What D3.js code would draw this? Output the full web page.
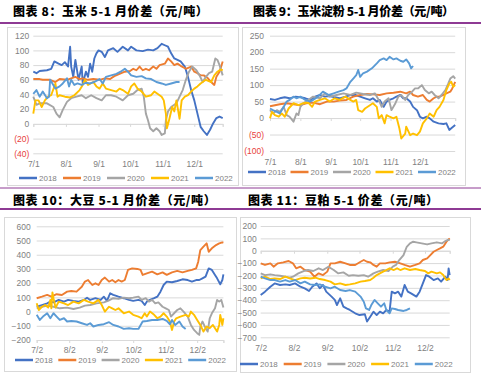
<!DOCTYPE html>
<html>
<head>
<meta charset="utf-8">
<script src="https://cdn.jsdelivr.net/npm/d3@7"></script>
<style>
  body { margin: 0; background: #fff; }
  svg { display: block; font-family: Arial, "Liberation Sans", sans-serif; }
</style>
</head>
<body>
<svg id="chart" width="481" height="373"></svg>
<script>
// series are [days since first tick date, value]
const years = ['2018', '2019', '2020', '2021', '2022'];
const colors = ['#4472C4', '#ED7D31', '#A5A5A5', '#FFC000', '#5B9BD5'];

// corn 5-1 spread
const cornTicks = ['7/1', '8/1', '9/1', '10/1', '11/1', '12/1'];
const cornY = [120, 100, 80, 60, 40, 20, 0, -20, -40];
const corn2018 = [[0,71],[3,69],[6,72],[13,73],[17,75],[20,85],[24,82],[27,80],[30,84],[33,78],[35,105],[36,78],[38,64],[40,87],[43,60],[46,78],[47,55],[50,71],[52,64],[54,82],[56,71],[58,89],[60,96],[62,100],[65,98],[68,91],[71,100],[76,103],[80,98],[85,105],[90,100],[93,105],[98,100],[104,99],[109,101],[114,100],[118,103],[122,109],[125,107],[128,105],[131,96],[134,89],[137,87],[140,85],[144,78],[147,64],[150,46],[153,32],[156,14],[159,-4],[162,-10],[165,-15],[168,-8],[171,1],[174,8],[177,10],[180,8]];
const corn2019 = [[0,61],[6,61],[9,60],[16,60],[21,57],[25,61],[32,60],[36,62],[40,64],[44,61],[47,62],[52,60],[57,61],[63,60],[68,62],[73,61],[77,65],[82,68],[87,71],[92,72],[95,75],[98,73],[101,78],[104,73],[107,75],[110,73],[114,78],[117,75],[120,80],[125,82],[128,89],[131,85],[134,80],[137,82],[140,79],[145,75],[150,78],[153,71],[156,69],[159,66],[162,66],[166,62],[169,57],[172,53],[174,64],[177,71],[180,85]];
const corn2020 = [[0,37],[3,26],[6,28],[13,28],[19,23],[22,14],[25,9],[28,19],[32,30],[36,35],[41,37],[46,39],[50,35],[55,39],[60,35],[65,32],[69,39],[74,39],[79,37],[85,32],[90,39],[95,41],[99,46],[103,48],[105,37],[107,14],[109,5],[111,-6],[114,-10],[117,-6],[120,-10],[122,-15],[125,-13],[126,5],[128,17],[131,23],[136,28],[139,37],[142,46],[145,60],[148,71],[151,78],[155,73],[158,66],[161,57],[164,64],[167,69],[170,71],[173,89],[175,87],[177,80],[180,66]];
const corn2021 = [[0,14],[2,32],[5,32],[8,23],[11,32],[14,37],[17,39],[21,55],[23,37],[25,39],[30,37],[35,36],[39,39],[44,46],[47,53],[49,60],[52,53],[57,57],[60,51],[63,48],[66,55],[69,48],[74,46],[79,44],[82,48],[85,46],[90,41],[93,51],[96,55],[99,48],[103,44],[107,37],[112,39],[115,44],[118,41],[122,37],[124,32],[126,14],[127,-6],[129,5],[132,23],[134,17],[136,32],[139,7],[141,32],[144,37],[147,39],[150,44],[153,48],[156,51],[159,55],[164,60],[169,57],[172,66],[175,71],[178,74],[180,73]];
const corn2022 = [[0,41],[3,46],[6,37],[9,44],[13,35],[15,37],[16,60],[19,53],[21,48],[25,51],[28,55],[32,62],[34,51],[36,60],[39,53],[42,55],[46,53],[50,56],[54,55],[58,57],[63,61],[66,55],[69,64],[74,66],[79,68],[83,71],[87,75],[90,71],[93,66],[98,64],[103,65],[107,62],[112,61],[117,57],[122,55],[126,53],[131,55],[136,57],[139,57]];

// corn starch 5-1 spread
const starchTicks = ['7/1', '8/1', '9/1', '10/1', '11/1', '12/1'];
const starchY = [250, 200, 150, 100, 50, 0, -50, -100];
const starch2018 = [[0,58],[5,55],[10,60],[15,63],[20,60],[26,65],[31,63],[36,60],[41,55],[46,65],[51,70],[56,65],[61,67],[66,63],[71,60],[77,65],[82,70],[87,70],[92,65],[97,60],[102,55],[105,60],[109,50],[112,55],[116,34],[119,50],[122,55],[126,60],[129,65],[133,70],[136,60],[139,60],[143,50],[146,34],[150,24],[153,4],[156,-1],[160,4],[163,-1],[167,-11],[172,-16],[177,-18],[180,-16],[183,-36],[185,-31],[189,-21]];
const starch2019 = [[0,36],[5,39],[10,42],[17,45],[24,42],[31,39],[37,45],[44,47],[51,42],[58,50],[65,50],[71,53],[78,55],[85,65],[92,70],[99,73],[105,72],[112,70],[119,75],[126,77],[133,80],[139,75],[143,80],[146,70],[151,65],[156,70],[160,55],[163,50],[167,60],[170,65],[173,65],[177,70],[180,75],[184,80],[186,90],[189,110]];
const starch2020 = [[0,24],[3,14],[7,24],[10,19],[14,34],[17,9],[20,4],[24,-11],[27,14],[29,9],[31,34],[34,45],[39,55],[44,65],[51,60],[56,75],[61,65],[68,70],[75,75],[82,70],[88,77],[95,73],[102,70],[107,75],[111,55],[114,34],[117,50],[121,60],[124,24],[128,45],[131,65],[134,70],[138,55],[141,70],[145,80],[148,90],[151,90],[155,100],[158,85],[162,75],[165,80],[168,70],[172,60],[175,70],[179,85],[182,105],[184,120],[187,127],[189,120]];
const starch2021 = [[0,-1],[2,19],[5,9],[9,4],[12,14],[15,4],[19,29],[24,45],[29,39],[34,45],[39,47],[43,34],[46,50],[51,55],[56,60],[61,50],[66,60],[71,55],[77,65],[82,55],[85,50],[88,55],[90,24],[94,19],[97,29],[102,39],[105,45],[109,34],[111,-1],[114,9],[117,-16],[119,9],[122,4],[126,-1],[129,4],[132,-31],[134,-62],[138,-47],[139,-26],[143,-52],[146,-47],[150,-52],[153,-41],[156,-16],[160,-1],[163,14],[167,4],[170,24],[173,34],[177,55],[180,85],[183,105],[185,110],[187,95],[189,100]];
const starch2022 = [[0,29],[3,24],[7,19],[10,14],[14,34],[17,50],[20,55],[24,65],[27,60],[31,65],[36,55],[41,50],[44,55],[49,65],[54,80],[60,70],[65,75],[70,80],[75,85],[78,90],[82,110],[85,120],[88,130],[90,146],[92,125],[95,136],[99,141],[104,151],[109,166],[112,176],[116,181],[119,176],[122,186],[126,178],[129,181],[133,174],[136,171],[139,178],[142,166],[144,151],[146,158]];

// soybean 5-1 spread
const beanTicks = ['7/2', '8/2', '9/2', '10/2', '11/2', '12/2'];
const beanY = [600, 500, 400, 300, 200, 100, 0, -100, -200];
const bean2018 = [[0,34],[5,46],[10,58],[13,70],[16,65],[21,82],[26,70],[30,82],[35,75],[40,70],[45,82],[48,98],[51,82],[56,94],[61,82],[64,105],[67,75],[70,129],[73,117],[78,105],[83,94],[88,82],[92,75],[97,82],[100,75],[103,46],[105,70],[108,82],[112,94],[115,105],[118,140],[121,187],[124,211],[129,206],[134,215],[139,227],[144,222],[148,211],[152,222],[155,222],[158,234],[161,246],[164,304],[167,293],[170,258],[172,234],[175,192],[177,222],[178.5,262]];
const bean2019 = [[0,94],[5,105],[10,117],[14,105],[19,122],[24,117],[29,140],[33,145],[38,140],[43,175],[46,211],[49,222],[53,187],[56,199],[59,187],[62,222],[65,239],[69,211],[72,222],[75,206],[78,222],[81,211],[84,222],[87,293],[91,304],[96,300],[99,293],[101,258],[105,269],[110,281],[115,262],[120,276],[124,258],[129,276],[134,286],[139,276],[144,286],[148,293],[152,304],[154,351],[156,433],[159,457],[162,480],[164,421],[167,445],[171,468],[174,480],[177,487],[178.5,485]];
const bean2020 = [[0,23],[5,34],[10,42],[16,34],[22,23],[29,28],[35,18],[41,28],[46,42],[51,46],[57,58],[64,65],[68,75],[73,94],[78,89],[83,98],[88,94],[92,98],[97,105],[100,82],[104,94],[107,70],[110,82],[113,58],[116,65],[120,34],[123,23],[126,11],[128,-35],[131,-12],[134,11],[137,23],[140,0],[144,-35],[147,-94],[150,-129],[153,-152],[155,-164],[156,-105],[158,-70],[161,-117],[163,-141],[165,-47],[167,-12],[170,23],[172,82],[174,70],[176,82],[178.5,28]];
const bean2021 = [[0,58],[2,11],[5,34],[8,46],[11,28],[13,82],[14,23],[15,135],[16,94],[18,28],[21,70],[26,58],[30,46],[35,70],[40,58],[45,82],[49,70],[54,58],[59,82],[62,46],[65,0],[69,34],[72,23],[75,11],[78,23],[83,-12],[88,0],[92,-23],[97,-35],[100,-47],[103,-12],[105,-35],[108,0],[112,-23],[115,-47],[118,-35],[121,-12],[124,-35],[127,-70],[129,-129],[131,-70],[133,-47],[137,-35],[142,-23],[145,-35],[147,0],[150,-23],[153,-59],[156,-94],[159,-141],[162,-105],[165,-117],[168,-94],[172,-141],[174,-94],[175,-23],[177,-94],[178.5,-47]];
const bean2022 = [[0,-23],[3,-59],[6,-35],[10,-12],[13,-47],[16,-12],[19,-35],[22,-59],[26,-47],[29,-70],[33,-66],[38,-70],[43,-82],[48,-94],[51,-82],[54,-105],[59,-94],[64,-89],[69,-75],[73,-94],[78,-105],[83,-122],[88,-117],[92,-122],[97,-122],[101,-70],[105,-66],[110,-59],[115,-59],[120,-52],[124,-66],[127,-89],[129,-59],[132,-94],[136,-70],[139,-105],[142,-122]];

// soybean meal 5-1 spread
const mealTicks = ['7/2', '8/2', '9/2', '10/2', '11/2', '12/2'];
const mealY = [200, 100, 0, -100, -200, -300, -400, -500, -600, -700];
const meal2018 = [[0,-358],[4,-331],[9,-291],[13,-264],[18,-277],[23,-272],[27,-277],[32,-264],[37,-291],[41,-304],[45,-326],[48,-291],[52,-264],[55,-304],[58,-277],[61,-331],[66,-371],[69,-398],[71,-439],[74,-385],[77,-452],[80,-466],[83,-479],[88,-506],[92,-520],[97,-514],[99,-573],[102,-533],[105,-493],[108,-520],[111,-493],[114,-506],[117,-479],[120,-493],[122,-331],[125,-345],[128,-331],[131,-371],[134,-277],[137,-331],[140,-345],[145,-371],[148,-331],[151,-264],[154,-197],[157,-210],[161,-237],[165,-224],[168,-250],[172,-210],[174,-237],[175,-143],[176,-197]];
const meal2019 = [[0,-102],[4,-115],[9,-102],[12,-129],[16,-102],[21,-94],[26,-83],[30,-102],[33,-142],[37,-129],[41,-156],[46,-169],[50,-210],[54,-183],[58,-197],[62,-169],[65,-102],[69,-102],[74,-89],[79,-102],[83,-115],[88,-115],[93,-89],[96,-75],[99,-89],[102,-94],[105,-115],[108,-129],[111,-102],[116,-102],[120,-94],[125,-89],[130,-102],[134,-115],[139,-129],[144,-115],[148,-102],[151,-75],[155,-62],[158,-35],[161,-8],[164,6],[167,19],[170,33],[173,73],[176,100]];
const meal2020 = [[0,-183],[4,-197],[9,-191],[13,-197],[18,-202],[23,-210],[27,-218],[30,-210],[35,-183],[40,-164],[44,-156],[49,-164],[54,-142],[58,-156],[63,-129],[68,-156],[72,-183],[77,-175],[82,-202],[86,-197],[91,-202],[96,-197],[100,-210],[105,-183],[109,-169],[114,-156],[119,-164],[123,-129],[126,-115],[129,-75],[133,-35],[136,32],[139,60],[142,73],[145,68],[150,60],[155,51],[159,60],[164,68],[169,60],[172,78],[174,87],[176,87]];
const meal2021 = [[0,-224],[4,-210],[9,-229],[13,-224],[18,-229],[23,-210],[27,-224],[32,-237],[37,-224],[41,-218],[46,-224],[51,-218],[55,-229],[60,-237],[65,-250],[69,-272],[74,-264],[79,-277],[83,-272],[88,-264],[93,-250],[97,-245],[102,-237],[105,-218],[108,-197],[111,-183],[114,-169],[117,-156],[120,-142],[124,-156],[127,-142],[130,-156],[134,-142],[139,-156],[144,-148],[148,-156],[153,-164],[156,-183],[159,-169],[164,-183],[167,-175],[170,-197],[173,-237],[175,-224],[176,-237]];
const meal2022 = [[0,-210],[4,-224],[9,-237],[13,-237],[18,-250],[23,-237],[27,-250],[32,-237],[37,-264],[41,-250],[46,-272],[51,-277],[55,-272],[60,-291],[65,-304],[69,-291],[74,-318],[79,-326],[83,-318],[88,-331],[93,-371],[96,-412],[98,-466],[101,-479],[103,-439],[106,-398],[109,-425],[112,-452],[115,-425],[117,-479],[120,-506],[122,-466],[125,-471],[128,-479],[133,-487],[136,-479],[139,-466]];

const svg = d3.select('#chart');

const parseTick = s => {
  const [m, d] = s.split('/').map(Number);
  return new Date(2022, m - 1, d);
};

const parenFmt = v => v < 0 ? `(${-v})` : `${v}`;

// purple rules under each row of titles
function titleBar(y0) {
  svg.append('line').attr('x1', 0).attr('x2', 481).attr('y1', y0 + 23).attr('y2', y0 + 23)
    .attr('stroke', '#8E3A94').attr('stroke-width', 2);
  if (y0 > 0) {
    svg.append('line').attr('x1', 0).attr('x2', 481).attr('y1', y0 + 2).attr('y2', y0 + 2)
      .attr('stroke', '#8E3A94').attr('stroke-width', 1);
  }
}

function drawPanel(p) {
  // outer frame
  svg.append('rect')
    .attr('x', p.frame[0] + 0.5).attr('y', p.frame[1] + 0.5)
    .attr('width', p.frame[2] - p.frame[0]).attr('height', p.frame[3] - p.frame[1])
    .attr('fill', 'none').attr('stroke', '#D9D9D9');

  svg.append('text')
    .attr('x', p.titleX).attr('y', p.titleY)
    .style('font-family', '"Noto Sans CJK SC", sans-serif')
    .style('font-weight', 900)
    .style('font-size', '12px')
    .style('letter-spacing', `${p.titleSpacing}px`)
    .attr('fill', '#000')
    .text(p.title);

  const start = parseTick(p.ticks[0]);
  const x = d3.scaleTime()
    .domain([start, d3.timeDay.offset(start, p.endDay)])
    .range([p.x0, p.x1]);
  const y = d3.scaleLinear().domain(p.yDomain).range([p.yBottom, p.yTop]);

  const g = svg.append('g');

  // gridlines + y labels
  const yAxis = g.append('g')
    .attr('transform', `translate(${p.x0}, 0)`)
    .call(d3.axisLeft(y).tickValues(p.yTicks).tickSize(-(p.x1 - p.x0)).tickPadding(p.yPad)
      .tickFormat(p.paren ? parenFmt : d3.format('d')));
  yAxis.select('.domain').remove();
  yAxis.selectAll('.tick line').attr('stroke', '#D9D9D9');
  yAxis.selectAll('.tick text')
    .style('font-size', '8.5px')
    .attr('fill', d => (p.paren && d < 0) ? '#E8413C' : '#7F7F7F');

  // category axis line with tick marks
  const axisY = y(p.axisAt);
  const tickDates = p.ticks.map(parseTick);
  const xAxisLine = g.append('g')
    .attr('transform', `translate(0, ${axisY})`)
    .call(d3.axisBottom(x).tickValues(tickDates.concat([x.domain()[1]])).tickSize(3).tickFormat(''));
  xAxisLine.selectAll('path, line').attr('stroke', '#D9D9D9');

  // x labels sit at the bottom
  const xLabels = g.append('g')
    .attr('transform', `translate(0, ${p.xLabelY})`)
    .call(d3.axisBottom(x).tickValues(tickDates).tickSize(0).tickPadding(0)
      .tickFormat((d, i) => p.ticks[i]));
  xLabels.select('.domain').remove();
  xLabels.selectAll('.tick text')
    .style('font-size', '8.5px')
    .attr('fill', '#7F7F7F')
    .attr('dy', '0.35em');

  const line = d3.line()
    .x(d => x(d3.timeDay.offset(start, d[0])))
    .y(d => y(d[1]));

  p.series.forEach((s, i) => {
    g.append('path')
      .datum(s)
      .attr('fill', 'none')
      .attr('stroke', colors[i])
      .attr('stroke-width', 1.9)
      .attr('stroke-linejoin', 'round')
      .attr('d', line);
  });

  // legend
  const leg = svg.append('g').attr('transform', `translate(${p.legendX}, ${p.legendY})`);
  years.forEach((yr, i) => {
    const item = leg.append('g').attr('transform', `translate(${i * p.legendStep}, 0)`);
    item.append('line').attr('x1', 0).attr('x2', 18).attr('y1', 0).attr('y2', 0)
      .attr('stroke', colors[i]).attr('stroke-width', 2.5);
    item.append('text').attr('x', 20).attr('y', 0).attr('dy', '0.35em')
      .style('font-size', '8px').attr('fill', '#7F7F7F').text(yr);
  });
}

titleBar(0);
titleBar(186);

drawPanel({
  title: '图表 8：玉米 5-1 月价差（元/吨）', titleX: 13, titleY: 16, titleSpacing: 0.6,
  frame: [7, 27, 238, 185],
  ticks: cornTicks, endDay: 180, x0: 33.3, x1: 222.7,
  yDomain: [-40, 120], yTicks: cornY, yTop: 35.7, yBottom: 153.3, yPad: 4, paren: true, axisAt: 0,
  xLabelY: 164, legendX: 19, legendY: 178, legendStep: 44,
  series: [corn2018, corn2019, corn2020, corn2021, corn2022]
});

drawPanel({
  title: '图表 9：玉米淀粉 5-1 月价差（元/吨）', titleX: 253, titleY: 16, titleSpacing: -0.3,
  frame: [242, 27, 465, 185],
  ticks: starchTicks, endDay: 189, x0: 270, x1: 455.2,
  yDomain: [-100, 250], yTicks: starchY, yTop: 35.7, yBottom: 151, yPad: 6, paren: true, axisAt: 0,
  xLabelY: 162, legendX: 248, legendY: 172, legendStep: 42.5,
  series: [starch2018, starch2019, starch2020, starch2021, starch2022]
});

drawPanel({
  title: '图表 10：大豆 5-1 月价差（元/吨）', titleX: 13, titleY: 205, titleSpacing: 0.6,
  frame: [4, 217, 236, 371],
  ticks: beanTicks, endDay: 178.5, x0: 36.7, x1: 223.4,
  yDomain: [-200, 600], yTicks: beanY, yTop: 226.3, yBottom: 340, yPad: 6, paren: false, axisAt: -200,
  xLabelY: 350, legendX: 15, legendY: 360, legendStep: 43.3,
  series: [bean2018, bean2019, bean2020, bean2021, bean2022]
});

drawPanel({
  title: '图表 11：豆粕 5-1 价差（元/吨）', titleX: 248, titleY: 205, titleSpacing: 0.6,
  frame: [240, 217, 470, 372],
  ticks: mealTicks, endDay: 176, x0: 260.7, x1: 449.7,
  yDomain: [-700, 200], yTicks: mealY, yTop: 226, yBottom: 337.3, yPad: 4, paren: false, axisAt: 0,
  xLabelY: 348, legendX: 240, legendY: 364, legendStep: 43.7,
  series: [meal2018, meal2019, meal2020, meal2021, meal2022]
});
</script>
</body>
</html>
